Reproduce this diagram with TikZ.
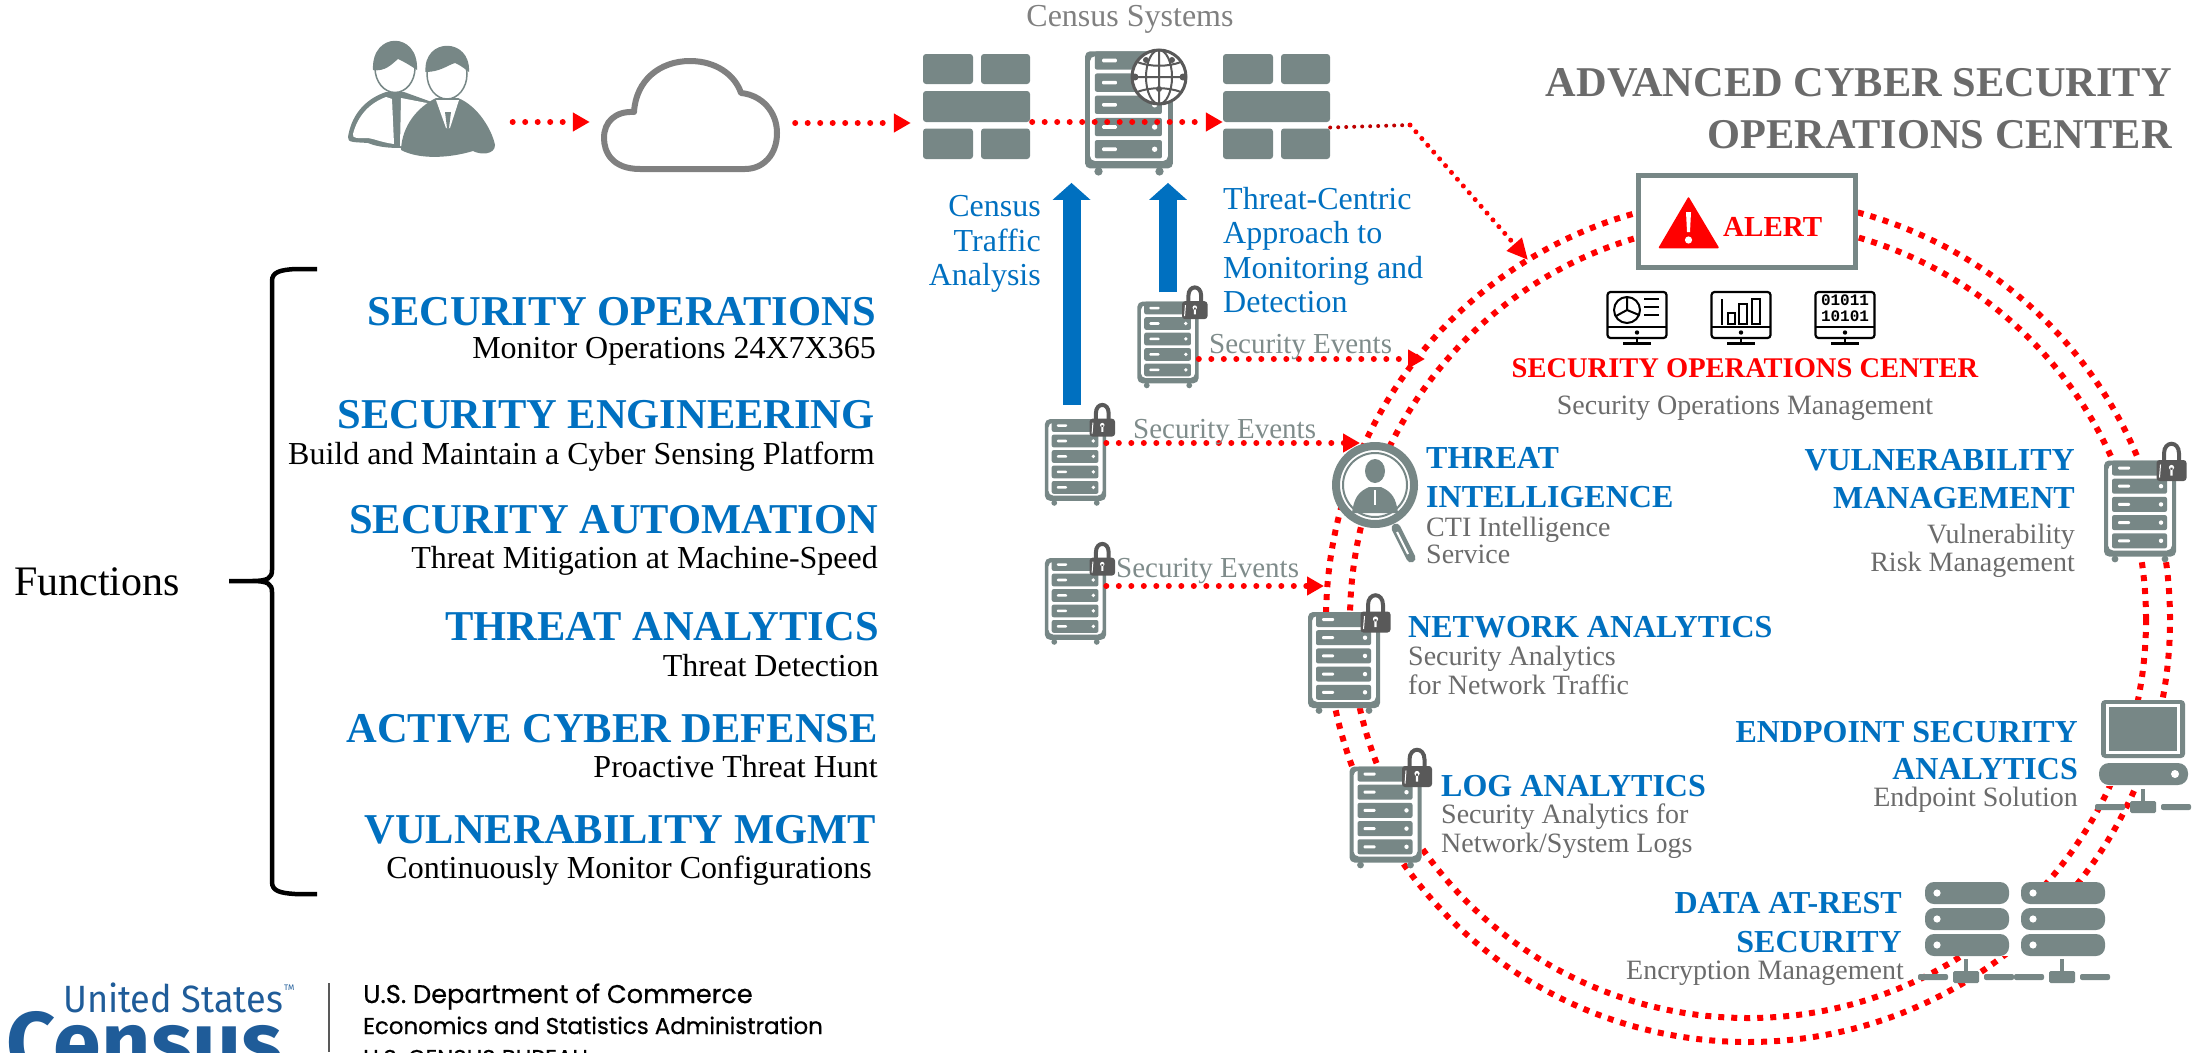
\documentclass[tikz,border=0pt]{standalone}
\usepackage{fontspec}
\setmainfont{Liberation Serif}
\setmonofont{Liberation Mono}
\newfontfamily\logofont[FakeBold=0.6]{Poppins}
\newfontfamily\statesfont{Fira Sans}
\usetikzlibrary{positioning,arrows.meta,calc}

\definecolor{wallgray}{HTML}{778786}
\definecolor{labelgray}{HTML}{6B6B6B}
\definecolor{cloudgray}{HTML}{808080}
\definecolor{eventgray}{HTML}{7F8C8B}
\definecolor{lockgray}{HTML}{595959}
\definecolor{censusblue}{HTML}{0070C0}
\definecolor{logoblue}{HTML}{1F5C99}

\tikzset{
  iconbox/.style 2 args = {inner sep=0, minimum width=#1, minimum height=#2},
  listhead/.style = {anchor=base east, inner sep=0, text=censusblue,
    font=\fontsize{42.5}{42.5}\selectfont\bfseries},
  listsub/.style = {anchor=base east, inner sep=0,
    font=\fontsize{32}{32}\selectfont},
  bluehead/.style = {inner sep=0, text=censusblue,
    font=\fontsize{32}{32}\selectfont\bfseries},
  bluetext/.style = {inner sep=0, text=censusblue,
    font=\fontsize{32}{32}\selectfont},
  graytext/.style = {inner sep=0, text=labelgray,
    font=\fontsize{28}{28}\selectfont},
  ringline/.style = {draw=red, line width=6pt, dash pattern=on 6pt off 7pt},
  dotarrow/.style = {draw=red, line width=6pt, line cap=round,
    dash pattern=on 0pt off 12.5pt,
    -{Triangle[length=17pt,width=18pt,fill=red]}},
  bigarrow/.style = {draw=censusblue, line width=18pt,
    -{Triangle[length=17pt,width=37pt,fill=censusblue]}},
  server/.pic = {
    \fill[white,rounded corners=5pt] (-36,-51) rectangle (36,45);
    \fill[wallgray,even odd rule,rounded corners=5pt]
      (-36,-51) rectangle (36,45) (-32,-47) rectangle (32,39);
    \foreach \r in {0,...,4} {
      \fill[wallgray,rounded corners=2pt] (-28,{-51+\r*18.2}) rectangle (27,{-36+\r*18.2});
      \fill[white,rounded corners=1pt] (-22,{-45+\r*18.2}) rectangle (-10,{-42+\r*18.2});
      \fill[white] (21,{-43.5+\r*18.2}) circle (2.2);
    }
    \fill[wallgray] (-25,47.5) circle (3.4) (25,47.5) circle (3.4);
  },
  padlock/.pic = {
    \draw[lockgray,line width=4pt] (24,-51) -- (24,-58)
      .. controls (24,-71) and (39,-71) .. (39,-58) -- (39,-51);
    \fill[lockgray,rounded corners=3pt] (16.5,-51.5) rectangle (46.5,-30.5);
    \draw[white,line width=1pt] (20.5,-47) -- (19.5,-34);
    \fill[white] (31.5,-44) circle (2.6) (30.3,-44) rectangle (32.7,-36);
  },
  firewall/.pic = {
    \foreach \a/\b in {-53.5/-3.5, 4.5/53.5} {
      \fill[wallgray,rounded corners=3pt] (\a,-52.5) rectangle (\b,-22.5);
      \fill[wallgray,rounded corners=3pt] (\a,22) rectangle (\b,52.5);
    }
    \fill[wallgray,rounded corners=3pt] (-53.5,-15.5) rectangle (53.5,15.5);
  },
  screenframe/.pic = {
    \draw[black,line width=2.2pt,rounded corners=3pt] (-29.5,-26) rectangle (29.5,20);
    \draw[black,line width=2.2pt] (-29.5,9) -- (29.5,9) (0,20) -- (0,25);
    \draw[black,line width=2.6pt] (-14,25.5) -- (14,25.5);
    \fill[black] (0,14.5) circle (2.2);
  },
  netbar/.pic = {
    \fill[wallgray,rounded corners=1.5pt] (-13,-6) rectangle (13,6);
    \fill[wallgray] (-1.7,-18) rectangle (1.7,-6);
    \fill[wallgray,rounded corners=2pt] (-48,-3) rectangle (-18,3);
    \fill[wallgray,rounded corners=2pt] (18,-3) rectangle (48,3);
  },
}

\begin{document}
\begin{tikzpicture}[x=1pt,y=-1pt]
  \useasboundingbox (0,0) rectangle (2202,1052);
  \clip (0,0) rectangle (2202,1052);

  \coordinate (ringc) at (1748,620);
  \draw[ringline] (ringc) circle (422pt);
  \draw[ringline] (ringc) circle (398pt);

  % top row
  \node[iconbox={147pt}{118pt}] (people) at (421,98) {};
  \fill[wallgray] (348,137) .. controls (352,112) and (368,98) .. (386,92)
    -- (404,92) -- (440,105) -- (420,150) -- (400,148) .. controls (385,148) and (375,146) .. (368,143)
    .. controls (355,142) and (347,143) .. (348,137);
  \fill[white] (353,134) .. controls (358,115) and (370,103) .. (386,97)
    -- (392,99) -- (394,144) .. controls (380,142) and (375,139) .. (368,138)
    .. controls (358,138) and (352,139) .. (353,134);
  \fill[white] (401,98) -- (432,104) -- (405,146) -- (400,146) -- cycle;
  \fill[wallgray] (392,96) -- (401,96) -- (397,104) -- (399,144) -- (395,146) -- (393,104) -- cycle;
  \draw[wallgray,line width=1.5pt,fill=white] (395,68) ellipse (20pt and 24.5pt);
  \fill[wallgray] (373,70) .. controls (371,31) and (419,31) .. (417,70)
    .. controls (414,68) and (405,62) .. (398,59) .. controls (392,64) and (385,72) .. (373,70);
  \fill[wallgray] (401,150) .. controls (402,125) and (418,107) .. (436,98)
    -- (458,98) .. controls (478,106) and (492,130) .. (495,145)
    .. controls (495,155) and (480,155) .. (473,151) .. controls (450,158) and (420,160) .. (401,150);
  \fill[white] (436,100) -- (459,100) -- (450,128) -- (446,128) -- cycle;
  \fill[wallgray] (445,112) -- (451,112) -- (449,128) -- (447,128) -- cycle;
  \draw[wallgray,line width=1.5pt,fill=white] (447,74) ellipse (20pt and 25pt);
  \fill[wallgray] (425.5,72) .. controls (423,37) and (471,37) .. (469,72)
    .. controls (466,70) and (462,66) .. (455,63) .. controls (448,65) and (440,72) .. (425.5,72);

  \node[iconbox={180pt}{114pt}] (cloud) at (690,115) {};
  \draw[cloudgray,line width=6pt,line join=round] (640,169)
    .. controls (612,169) and (604,152) .. (604,138)
    .. controls (604,122) and (615,111) .. (634,112)
    .. controls (636,80) and (660,61) .. (690,61)
    .. controls (716,61) and (735,75) .. (741,93)
    .. controls (762,95) and (777,112) .. (777,133)
    .. controls (777,155) and (763,169) .. (745,169) -- cycle;

  \node[iconbox={107pt}{105pt}] (fwA) at (976.5,106.5) {};
  \node[iconbox={107pt}{105pt}] (fwB) at (1276.5,106.5) {};
  \pic at (fwA) {firewall};
  \pic at (fwB) {firewall};

  \node[bluetext,text=cloudgray] (censys) at (1130,19) {Census Systems};

  % servers
  \foreach \name/\x/\y/\s in {srvcensus/1129/113.5/1.22} {
    \node[iconbox={\s*72pt}{\s*102pt}] (\name) at (\x,\y) {};
    \pic[scale=\s] at (\name) {server};
  }
  \foreach \name/\x/\y/\s in {srvtop/1168/345/.85, srvB/1075.5/462.5/.85, srvC/1075.5/601.5/.85,
      srvnet/1344/663/1, srvlog/1385.5/817.5/1, srvvuln/2140/511.5/1} {
    \node[iconbox={\s*72pt}{\s*102pt}] (\name) at (\x,\y) {};
    \pic[scale=\s] at (\name) {server};
    \pic[scale=\s] at (\name) {padlock};
  }

  \node[iconbox={56pt}{56pt}] (globe) at (1159,77) {};
  \draw[lockgray,line width=3pt,fill=white] (globe) circle (27pt);
  \draw[lockgray,line width=2pt] (globe) ellipse (13pt and 27pt)
    (1159,50) -- (1159,104) (1132,77) -- (1186,77)
    (1137,62) .. controls (1150,67) and (1168,67) .. (1181,62)
    (1137,92) .. controls (1150,87) and (1168,87) .. (1181,92);
  \fill[lockgray] (1135,77) circle (3.5) (1183,77) circle (3.5)
    (1146,60) circle (3) (1172,60) circle (3) (1159,89) circle (3);

  \draw[bigarrow] ([xshift=-4pt,yshift=14pt]srvB.north)
    -- ([xshift=-57.5pt,yshift=-7pt]srvcensus.south);
  \draw[bigarrow] ([yshift=9pt]srvtop.north)
    -- ([xshift=39pt,yshift=-7pt]srvcensus.south);

  \draw[dotarrow] ([xshift=18pt,yshift=-24pt]people.east)
    -- ([xshift=-10pt,yshift=-7pt]cloud.west);
  \draw[dotarrow] ([xshift=15pt,yshift=-8pt]cloud.east)
    -- ([xshift=-12pt,yshift=-16.5pt]fwA.west);
  \draw[dotarrow] ([xshift=2pt,yshift=-15.5pt]fwA.east)
    -- ([yshift=-15.5pt]fwB.west);

  \coordinate (fwturn) at (1410,125);
  \coordinate (tipring) at (1528,260);
  \draw[draw=red!75!black,line width=4pt,line cap=round,dash pattern=on 0pt off 8pt]
    ([yshift=-21pt]fwB.east) -- (fwturn);
  \draw[draw=red,line width=5pt,line cap=round,dash pattern=on 0pt off 9pt,
    -{Triangle[length=21pt,width=19pt,fill=red]}] (fwturn) -- (tipring);

  \node[bluetext,anchor=base east] (censusA) at (1041,216) {Census};
  \node[bluetext,anchor=base east] (censusB) at (1041,251) {Traffic};
  \node[bluetext,anchor=base east] (censusC) at (1041,285) {Analysis};
  \foreach \name/\y/\txt in {threatA/209/Threat-Centric, threatB/243/Approach to,
      threatC/278/Monitoring and, threatD/312/Detection}
    \node[bluetext,anchor=base west] (\name) at (1223,\y) {\txt};

  % soc
  \node[draw=wallgray,fill=white,line width=5pt,iconbox={217pt}{92pt}] (alert) at (1747,221.5) {};
  \fill[red,draw=red,line width=1.5pt,line join=round] (1688.5,198) -- (1718,247.5) -- (1659.5,247.5) -- cycle;
  \fill[white] (1686,212) -- (1691,212) -- (1690,232) -- (1687,232) -- cycle;
  \fill[white] (1688.5,240) circle (3.6);
  \node[anchor=base west,inner sep=0,text=red,font=\fontsize{29}{29}\selectfont\bfseries] (alerttxt) at (1723,236) {ALERT};

  \foreach \name/\x in {scrA/1637, scrB/1741, scrC/1845} {
    \node[iconbox={60pt}{53pt}] (\name) at (\x,318) {};
    \pic at (\name) {screenframe};
  }
  \coordinate (pie) at ($(scrA)+(-10,-8)$);
  \draw[black,line width=2pt] (pie) circle (13pt)
    (pie) -- ++(0,-13) (pie) -- ++(12,5) (pie) -- ++(-11,6);
  \draw[black,line width=2.4pt] ($(scrA)+(7,-19)$) -- ++(15,0)
    ($(scrA)+(7,-11)$) -- ++(15,0) ($(scrA)+(7,-3)$) -- ++(15,0);
  \draw[black,line width=2pt] ($(scrB)+(-19,-19)$) -- ++(0,26);
  \draw[black,line width=2pt] ($(scrB)+(-13,-5)$) rectangle ++(6.5,11)
    ($(scrB)+(-2,-14)$) rectangle ++(7.5,20) ($(scrB)+(11,-19)$) rectangle ++(8,25);
  \node[inner sep=0,align=center,font=\fontsize{16}{16.5}\selectfont\ttfamily\bfseries,text=black] (scrbits) at (1845,308) {01011\\10101};

  \node[inner sep=0,text=red,font=\fontsize{28.5}{28.5}\selectfont\bfseries] (soc) at (1745,368) {SECURITY OPERATIONS CENTER};
  \node[graytext] (socsub) at (1745,408) {Security Operations Management};

  \foreach \name/\anc/\x/\y/\txt in {
      threatintA/base west/1426/468/THREAT, threatintB/base west/1426/507/INTELLIGENCE,
      netana/base west/1408/637/NETWORK ANALYTICS, logana/base west/1441/796/LOG ANALYTICS,
      vulnA/base east/2075/470/VULNERABILITY, vulnB/base east/2075/508/MANAGEMENT,
      endA/base east/2078/742/ENDPOINT SECURITY, endB/base east/2078/779/ANALYTICS,
      dataA/base east/1902/913/DATA AT-REST, dataB/base east/1902/952/SECURITY}
    \node[bluehead,anchor=\anc] (\name) at (\x,\y) {\txt};
  \foreach \name/\anc/\x/\y/\txt in {
      ctiA/base west/1426/536/CTI Intelligence, ctiB/base west/1426/563/Service,
      netsubA/base west/1408/665/Security Analytics, netsubB/base west/1408/694/for Network Traffic,
      logsubA/base west/1441/823/Security Analytics for, logsubB/base west/1441/852/{Network/System Logs},
      vulnsubA/base east/2075/543/Vulnerability, vulnsubB/base east/2075/571/Risk Management,
      endsub/base east/2078/806/Endpoint Solution, datasub/base east/1904/979/Encryption Management}
    \node[graytext,anchor=\anc] (\name) at (\x,\y) {\txt};

  % magnifier
  \node[draw=wallgray,fill=white,line width=8pt,circle,inner sep=0,minimum size=78pt] (lens) at (1375,485) {};
  \draw[wallgray,line width=2pt] (lens) circle (32pt);
  \fill[wallgray] (1375,471) ellipse (10pt and 12pt);
  \fill[wallgray] (1352,513) .. controls (1354,498) and (1358,492) .. (1369,487)
    -- (1381,487) .. controls (1392,492) and (1396,498) .. (1398,513) -- cycle;
  \draw[white,line width=2pt] (1375,490) -- (1375,505);
  \draw[wallgray,line width=9pt,line cap=round] (1396,528) -- (1411,558);
  \draw[white,line width=2pt] (1397,532) -- (1408,554);

  % endpoint and data
  \node[fill=white,iconbox={90pt}{86pt}] (endpoint) at (2143,742.5) {};
  \fill[wallgray,rounded corners=4pt] (2101,700) rectangle (2185,758);
  \fill[white] (2106,704) rectangle (2180,754);
  \fill[wallgray] (2109,707) rectangle (2177,751);
  \fill[wallgray,rounded corners=10pt] (2099,763) rectangle (2188,785);
  \fill[white] (2175,774) circle (4);
  \pic at (2143,807) {netbar};

  \node[fill=white,iconbox={180pt}{74pt}] (datastore) at (2015,919) {};
  \foreach \a in {1925,2021} {
    \foreach \t in {882,908,934} {
      \fill[wallgray,rounded corners=9pt] (\a,\t) rectangle ++(84,22);
      \fill[white] (\a+12,\t+11) circle (3.6);
    }
  }
  \pic at (1966,977) {netbar};
  \pic at (2062,977) {netbar};

  % event arrows
  \coordinate (tipA) at (1425,359);
  \coordinate (tipB) at (1360,443);
  \coordinate (tipC) at (1324,586);
  \foreach \src/\tip in {srvtop/tipA, srvB/tipB, srvC/tipC}
    \draw[dotarrow] (\src.east |- \tip) -- (\tip);
  \foreach \name/\x/\y in {evtA/1209/353, evtB/1133/438, evtC/1116/577}
    \node[graytext,anchor=base west,text=eventgray,font=\fontsize{29}{29}\selectfont] (\name) at (\x,\y) {Security Events};

  % title
  \node[anchor=base east,inner sep=0,text=labelgray,font=\fontsize{42.4}{42.4}\selectfont\bfseries] (titleA) at (2172,96) {ADVANCED CYBER SECURITY};
  \node[anchor=base east,inner sep=0,text=labelgray,font=\fontsize{42.4}{42.4}\selectfont\bfseries] (titleB) at (2172,148) {OPERATIONS CENTER};

  % function list
  \node[anchor=base,inner sep=0,font=\fontsize{42}{42}\selectfont] (functions) at (97,595) {Functions};
  \draw[black,line width=4.5pt] (317,269) -- (295,269) .. controls (280,270) and (272,272) .. (272,281)
    -- (272,570) .. controls (272,578) and (268,581) .. (252,581) -- (229,581)
    -- (252,581) .. controls (268,581) and (272,584) .. (272,592) -- (272,882)
    .. controls (272,891) and (280,893) .. (295,894) -- (317,894);
  \foreach \name/\x/\y/\txt in {
      secops/876/325/SECURITY OPERATIONS, seceng/875/428/SECURITY ENGINEERING,
      secauto/878/533/SECURITY AUTOMATION, thrana/879/640/THREAT ANALYTICS,
      actdef/878/742/ACTIVE CYBER DEFENSE, vulmgmt/876/843/VULNERABILITY MGMT}
    \node[listhead] (\name) at (\x,\y) {\txt};
  \foreach \name/\x/\y/\txt in {
      secopsub/876/358/Monitor Operations 24X7X365, secengsub/875/464/Build and Maintain a Cyber Sensing Platform,
      secautosub/878/568/Threat Mitigation at Machine-Speed, thranasub/879/676/Threat Detection,
      actdefsub/878/777/Proactive Threat Hunt, vulmgmtsub/872/878/Continuously Monitor Configurations}
    \node[listsub] (\name) at (\x,\y) {\txt};

  % logo
  \node[anchor=base west,inner sep=0,text=logoblue,font=\statesfont\fontsize{38}{38}\selectfont] (lgstates) at (63,1012) {\scalebox{.95}[1]{United States}};
  \node[anchor=base west,inner sep=0,text=logoblue,font=\statesfont\fontsize{8}{8}\selectfont] (lgtm) at (284,990) {TM};
  \node[anchor=base west,inner sep=0,text=logoblue,font=\statesfont\fontsize{86}{86}\selectfont\bfseries] (lgcensus) at (6,1072) {Census};
  \coordinate (lgruleA) at (329,983);
  \coordinate (lgruleB) at (329,1052);
  \draw[lockgray,line width=1.2pt] (lgruleA) -- (lgruleB);
  \node[anchor=base west,inner sep=0,font=\logofont\fontsize{25.6}{25.6}\selectfont] (lgdept) at (363,1003) {U.S. Department of Commerce};
  \node[anchor=base west,inner sep=0,font=\logofont\fontsize{22.9}{22.9}\selectfont] (lgesa) at (363,1034) {Economics and Statistics Administration};
  \node[anchor=base west,inner sep=0,font=\logofont\fontsize{22.9}{22.9}\selectfont] (lgbureau) at (363,1066) {U.S. CENSUS BUREAU};
\end{tikzpicture}
\end{document}
